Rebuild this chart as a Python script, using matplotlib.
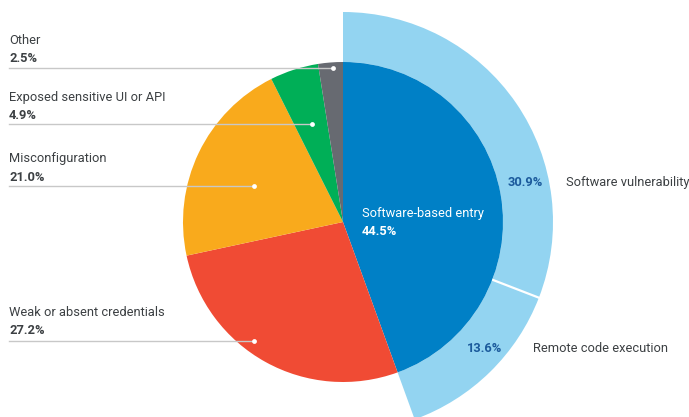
import numpy as np
import matplotlib
matplotlib.use("Agg")
import matplotlib.pyplot as plt

plt.rcParams['font.family'] = ['Roboto', 'DejaVu Sans']

# Data
inner_labels = ["Software-based entry", "Weak or absent credentials", "Misconfiguration",
                "Exposed sensitive UI or API", "Other"]
inner_values = [44.5, 27.2, 21.0, 4.9, 2.5]
inner_colors = ["#0080C6", "#F04B34", "#F9AA1C", "#00AF57", "#676A71"]

outer_labels = ["Software vulnerability", "Remote code execution"]
outer_values = [30.9, 13.6]
outer_colors = ["#93D4F1", "#93D4F1"]

W, H = 689, 417
fig = plt.figure(figsize=(W / 100, H / 100), dpi=100)
ax = fig.add_axes([0, 0, 1, 1])

def Y(y_img):
    return H - y_img

cx, cy = 343, Y(222)
r_in, r_out = 160, 210

# Outer ring (software breakdown)
total_inner = sum(inner_values)
rest = total_inner - sum(outer_values)
ax.pie(outer_values + [rest], radius=r_out, center=(cx, cy), startangle=90,
       counterclock=False, colors=outer_colors + ["none"],
       wedgeprops=dict(width=r_out - r_in, linewidth=0), frame=True)

# Inner pie
ax.pie(inner_values, radius=r_in, center=(cx, cy), startangle=90,
       counterclock=False, colors=inner_colors,
       wedgeprops=dict(linewidth=0), frame=True)

# white separator in outer ring
ang = np.deg2rad(90 - outer_values[0] / total_inner * 360)
ax.plot([cx + r_in * np.cos(ang), cx + (r_out + 2) * np.cos(ang)],
        [cy + r_in * np.sin(ang), cy + (r_out + 2) * np.sin(ang)],
        color="white", lw=1.6, solid_capstyle="butt")

ax.set_xlim(0, W)
ax.set_ylim(0, H)
ax.set_aspect('equal')
ax.axis('off')

label_col = "#3C4043"
fs = 9.3

# Left callouts: (label index, label y, value y, line y, dot x)
left = [
    (4, 40, 58, 68, 333),
    (3, 97, 115, 124, 312),
    (2, 158, 177, 186, 254),
    (1, 312, 331, 341, 254),
]
for idx, ly, vy, liney, dx in left:
    ax.text(9, Y(ly), inner_labels[idx], fontsize=fs, color=label_col, va='center', ha='left')
    ax.text(9, Y(vy), f"{inner_values[idx]:.1f}%", fontsize=fs, color=label_col,
            va='center', ha='left', fontweight='bold')
    ax.plot([9, dx], [Y(liney), Y(liney)], color="#C8C8C8", lw=1.0, zorder=5)
    ax.scatter([dx], [Y(liney)], s=12, color="white", zorder=6, linewidths=0)

# Center label
ax.text(362, Y(213), inner_labels[0], fontsize=fs, color="white", va='center', ha='left')
ax.text(362, Y(231), f"{inner_values[0]:.1f}%", fontsize=fs, color="white",
        va='center', ha='left', fontweight='bold')

# Outer ring labels
ax.text(525, Y(182), f"{outer_values[0]:.1f}%", fontsize=fs, color="#1B5A9C",
        va='center', ha='center', fontweight='bold')
ax.text(566, Y(182), outer_labels[0], fontsize=fs, color=label_col, va='center', ha='left')
ax.text(485, Y(348), f"{outer_values[1]:.1f}%", fontsize=fs, color="#1B5A9C",
        va='center', ha='center', fontweight='bold')
ax.text(533, Y(348), outer_labels[1], fontsize=fs, color=label_col, va='center', ha='left')

fig.savefig("out.png", dpi=100)
